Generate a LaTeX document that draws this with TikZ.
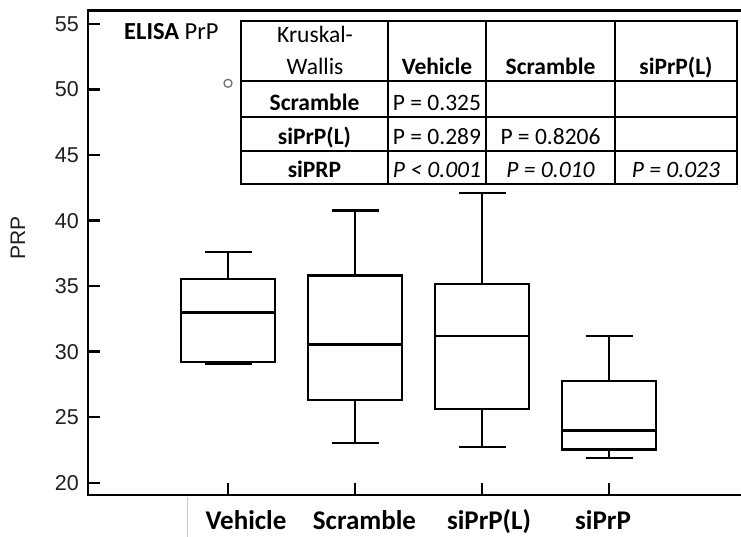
\documentclass[tikz,border=0pt]{standalone}
\usepackage{fontspec}
\setmainfont{Carlito}
\newfontfamily\arialfont{Liberation Sans}
\begin{document}
\begin{tikzpicture}[x=1pt,y=-1pt,
  axisline/.style={line width=2.8pt},
  boxline/.style={line width=2.4pt},
  tabline/.style={line width=1.8pt},
  ticklab/.style={font=\arialfont\fontsize{21.5}{25}\selectfont, text=black!88, anchor=east, inner sep=0pt},
  cell/.style={font=\fontsize{23.5}{27}\selectfont, anchor=base, inner sep=0pt},
  bcell/.style={cell, font=\bfseries\fontsize{23.5}{27}\selectfont},
  icell/.style={cell, font=\itshape\fontsize{23.5}{27}\selectfont},
  xlab/.style={font=\bfseries\fontsize{27}{31}\selectfont, anchor=base, inner sep=0pt}]
\useasboundingbox (0,0) rectangle (741,537);
% axes frame
\draw[axisline] (741,10.5) -- (88,10.5) -- (88,495) -- (741,495);
% y ticks
\foreach \v/\y in {20/482.7,25/417.2,30/351.6,35/286.1,40/220.6,45/155.1,50/89.5,55/24.0}{
  \draw[boxline] (88,\y) -- (100,\y);
  \node[ticklab] (yt\v) at (79,\y) {\v};
}
% x ticks
\foreach \x in {228,355,482,609}{
  \draw[boxline] (\x,495) -- (\x,483);
}
% gray guide below axis
\draw[black!22, line width=1pt] (187.5,497) -- (187.5,537);
% y label
\node[rotate=90, font=\arialfont\fontsize{21}{24}\selectfont, text=black!88, inner sep=0pt] (ylab) at (18,238) {PRP};
% box plots: x, top cap, q3, median, q1, bottom cap
\foreach \x/\hi/\qt/\md/\qo/\lo in {228/252.3/279/312.3/362/364, 355/210.7/275.3/344.3/400/443, 482/193.3/284/335.7/408.7/446.7, 609/335.7/380.7/430.3/449.3/457.7}{
  \draw[boxline] (\x-47,\qt) rectangle (\x+47,\qo);
  \draw[boxline] (\x-47,\md) -- (\x+47,\md);
  \draw[boxline] (\x,\qt) -- (\x,\hi);
  \draw[boxline] (\x-23.5,\hi) -- (\x+23.5,\hi);
  \draw[boxline] (\x,\qo) -- (\x,\lo);
  \draw[boxline] (\x-23.5,\lo) -- (\x+23.5,\lo);
}
% outlier
\draw[black!55, line width=1.3pt] (228,83.3) circle[radius=4pt];
% title
\node[anchor=base west, font=\fontsize{24.5}{29}\selectfont, inner sep=0pt] (title) at (124,39.5) {\textbf{ELISA} PrP};
% table
\fill[white] (241,21) rectangle (737,184);
\draw[tabline] (241,21) rectangle (737,184);
\foreach \y in {81,117,151}{ \draw[tabline] (241,\y) -- (737,\y); }
\foreach \x in {388,486,615}{ \draw[tabline] (\x,21) -- (\x,184); }
\node[cell] (kw1) at (315,43) {Kruskal-};
\node[cell] (kw2) at (315,75) {Wallis};
\node[bcell] (h1) at (437,75) {Vehicle};
\node[bcell] (h2) at (550.5,75) {Scramble};
\node[bcell] (h3) at (676,75) {siPrP(L)};
\node[bcell] (r1) at (314.5,111) {Scramble};
\node[bcell] (r2) at (314.5,145) {siPrP(L)};
\node[bcell] (r3) at (314.5,178) {siPRP};
\node[cell] (c11) at (437,111) {P = 0.325};
\node[cell] (c21) at (437,145) {P = 0.289};
\node[cell] (c22) at (550.5,145) {P = 0.8206};
\node[icell] (c31) at (437,178) {P < 0.001};
\node[icell] (c32) at (550.5,178) {P = 0.010};
\node[icell] (c33) at (676,178) {P = 0.023};
% x labels
\node[xlab] (xl1) at (246,529) {Vehicle};
\node[xlab] (xl2) at (364.5,529) {Scramble};
\node[xlab] (xl3) at (489,529) {siPrP(L)};
\node[xlab] (xl4) at (603,529) {siPrP};
\end{tikzpicture}
\end{document}
